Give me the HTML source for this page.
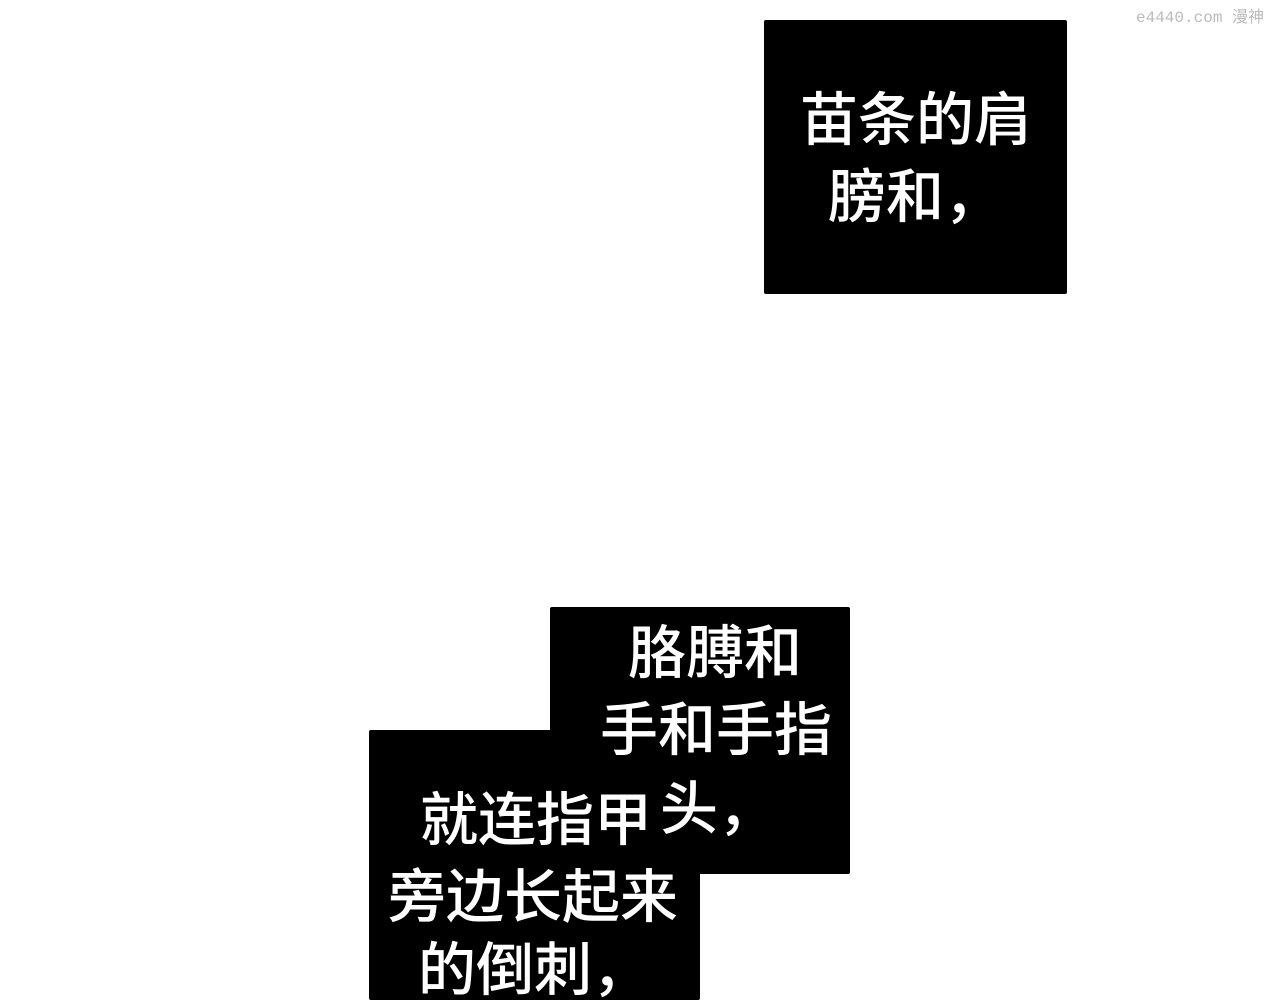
<!DOCTYPE html>
<html><head><meta charset="utf-8"><style>
body{margin:0;width:1280px;height:1000px;background:#fff;position:relative;overflow:hidden;font-family:"Liberation Sans","Noto Sans CJK SC",sans-serif}
.b{position:absolute;background:#000;border-radius:2px}
.t{position:absolute;color:#fff;font-size:58px;line-height:58px;white-space:nowrap;font-weight:500}
.w{position:absolute;color:#bbb;font-size:16px;font-family:"Liberation Mono","Noto Sans CJK SC",monospace;left:1136px;top:3px}
</style></head><body>
<div class="w">e4440.com 漫神</div>
<div class="b" style="left:764px;top:20px;width:303px;height:274px"></div>
<div class="b" style="left:550px;top:607px;width:300px;height:267px"></div>
<div class="b" style="left:369px;top:730px;width:331px;height:270px"></div>
<div class="t" style="left:800px;top:92px">苗条的肩</div>
<div class="t" style="left:828px;top:169px">膀和，</div>
<div class="t" style="left:628px;top:625px">胳膊和</div>
<div class="t" style="left:600px;top:702px">手和手指</div>
<div class="t" style="left:660px;top:781px">头，</div>
<div class="t" style="left:420px;top:792px">就连指甲</div>
<div class="t" style="left:388px;top:869px">旁边长起来</div>
<div class="t" style="left:418px;top:942px">的倒刺，</div>
</body></html>
